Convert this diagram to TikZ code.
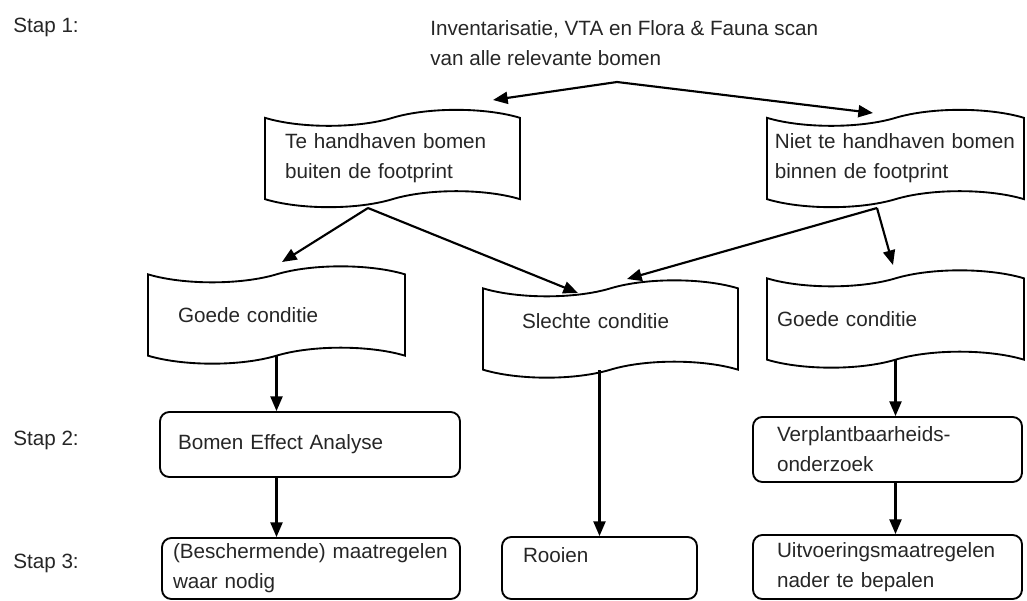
\documentclass[tikz,border=0pt]{standalone}
\usepackage{fontspec}
\setmainfont{Liberation Sans}
\usetikzlibrary{shapes.symbols,arrows.meta,calc}
\tikzset{every node/.style={font=\fontsize{15.5}{22.5}\selectfont, text=black!85},
    tapebox/.style={draw, shape=tape, line width=1.4pt, tape bend height=12pt,
        minimum width=192.75pt, minimum height=73pt, align=left, inner sep=0pt},
    stepbox/.style={draw, line width=1.4pt, rounded corners=7pt, align=left, inner sep=0pt},
    stap/.style={anchor=west, inner sep=0pt},
    flow/.style={-{Triangle[length=11pt,width=9pt]}, line width=1.6pt},
    }
\begin{document}
\begin{tikzpicture}[x=0.75pt, y=-0.75pt]
\useasboundingbox (0,0) rectangle (1027,600);
% stappen
\node[stap] (stap1) at (13,27) {Stap 1:};
\node[stap] (stap2) at (13,440) {Stap 2:};
\node[stap] (stap3) at (13,563) {Stap 3:};
% stap 1
\node[anchor=west, align=left, inner sep=0pt] (scan) at (430,43.5)
    {Inventarisatie, VTA en Flora \& Fauna scan\\van alle relevante bomen};
\coordinate (split) at (617,82);
\node[tapebox, minimum width=191.25pt, text width=161pt] (keep) at (392.5,158.5)
    {Te handhaven bomen\\buiten de footprint};
\node[tapebox, text width=181pt] (cut) at (895.5,158.5)
    {Niet te handhaven bomen\\binnen de footprint};
\node[tapebox, text width=147.75pt] (lgood) at (276.5,315) {Goede conditie};
\node[tapebox, minimum width=191.25pt, text width=132.75pt, text depth=12pt] (bad) at (610.5,329)
    {Slechte conditie};
\node[tapebox, text width=177.75pt] (rgood) at (895.5,319) {Goede conditie};
% stap 2
\node[stepbox, minimum width=225pt, minimum height=48.75pt, text width=198pt] (bea) at (310,444.5)
    {Bomen Effect Analyse};
\node[stepbox, minimum width=201.75pt, minimum height=48.75pt, text width=165.75pt] (verpl) at (887.5,449.5)
    {Verplantbaarheids-\\onderzoek};
% stap 3
\node[stepbox, minimum width=223.5pt, minimum height=45.75pt, text width=207pt] (maat) at (311,568.5)
    {(Beschermende) maatregelen\\waar nodig};
\node[stepbox, minimum width=146.25pt, minimum height=46.5pt, text width=114.75pt, text depth=19pt] (rooien) at (599.5,568)
    {Rooien};
\node[stepbox, minimum width=201.75pt, minimum height=48pt, text width=165.75pt] (uitv) at (887.5,567)
    {Uitvoeringsmaatregelen\\nader te bepalen};
% verbindingen
\coordinate (keepout) at ($(keep)+(-24.5,49.5)$);
\coordinate (cutout) at ($(cut)+(-18.5,49.5)$);
\draw[flow] (split) -- ($(keep)+(100.5,-58.5)$);
\draw[flow] (split) -- ($(cut)+(-22.5,-45.5)$);
\draw[flow] (keepout) -- ($(lgood)+(5.5,-53)$);
\draw[flow] (keepout) -- ($(bad)+(-32.5,-36)$);
\draw[flow] (cutout) -- ($(bad)+(16.5,-50)$);
\draw[flow] (cutout) -- ($(rgood)+(-2.5,-54)$);
\draw[flow] (lgood.south) -- (lgood.south |- bea.north);
\draw[flow] (bea.south -| lgood.south) -- (maat.north -| lgood.south);
\draw[flow] (bad.south -| rooien.north) -- (rooien.north);
\draw[flow] (rgood.south) -- (rgood.south |- verpl.north);
\draw[flow] (verpl.south -| rgood.south) -- (uitv.north -| rgood.south);
\end{tikzpicture}
\end{document}
